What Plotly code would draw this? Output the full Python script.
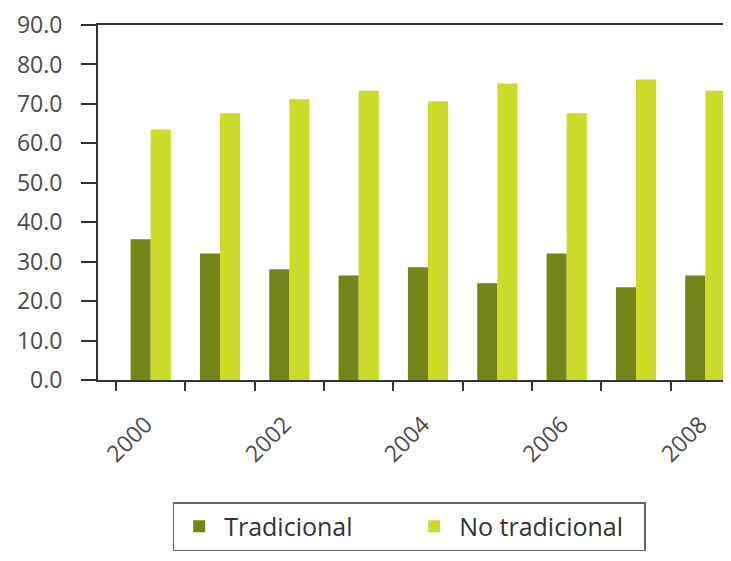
import plotly.graph_objects as go

years = [2000, 2001, 2002, 2003, 2004, 2005, 2006, 2007, 2008]
tradicional = [35.7, 32.1, 28.1, 26.5, 28.6, 24.5, 32.1, 23.5, 26.5]
no_tradicional = [63.5, 67.6, 71.2, 73.3, 70.7, 75.2, 67.6, 76.2, 73.3]
year_labels = [2000, 2002, 2004, 2006, 2008]

fig = go.Figure()
fig.add_trace(go.Bar(x=years, y=tradicional, name="Tradicional",
                     marker=dict(color="#758418", line=dict(width=0))))
fig.add_trace(go.Bar(x=years, y=no_tradicional, name="No tradicional",
                     marker=dict(color="#CCDB29", line=dict(width=0))))

# the page body adds an 8px offset, margins account for it
fig.update_layout(
    width=731, height=561,
    margin=dict(l=90, r=8, t=17, b=189),
    paper_bgcolor="white", plot_bgcolor="white",
    barmode="group", bargap=0.42, bargroupgap=0,
    font=dict(family="Open Sans", size=23, color="#4a4a4a"),
    showlegend=True,
    legend=dict(orientation="h", x=0.118, y=-0.344, xanchor="left", yanchor="top",
                bordercolor="#666666", borderwidth=1.5,
                font=dict(size=25, color="#333333"),
                itemwidth=40, entrywidth=180),
)

fig.update_xaxes(
    range=[1999.24, 2008.37],
    tickvals=year_labels, ticktext=[str(y) for y in year_labels],
    tickangle=-45, ticks="",
    ticklabelstandoff=20, ticklabelshift=-5,
    minor=dict(ticks="outside", tick0=1999.5, dtick=1, ticklen=9,
               tickcolor="#333333", tickwidth=2),
    showline=True, linecolor="#333333", linewidth=2, mirror=True,
    showgrid=False, zeroline=False, automargin=False,
)
fig.update_yaxes(
    range=[0, 90], dtick=10, tickformat=".1f",
    ticks="outside", ticklen=15, tickcolor="#333333", tickwidth=2,
    ticklabelstandoff=14,
    showline=True, linecolor="#333333", linewidth=2,
    showgrid=False, zeroline=False, automargin=False,
)

fig.write_html("out.html")
